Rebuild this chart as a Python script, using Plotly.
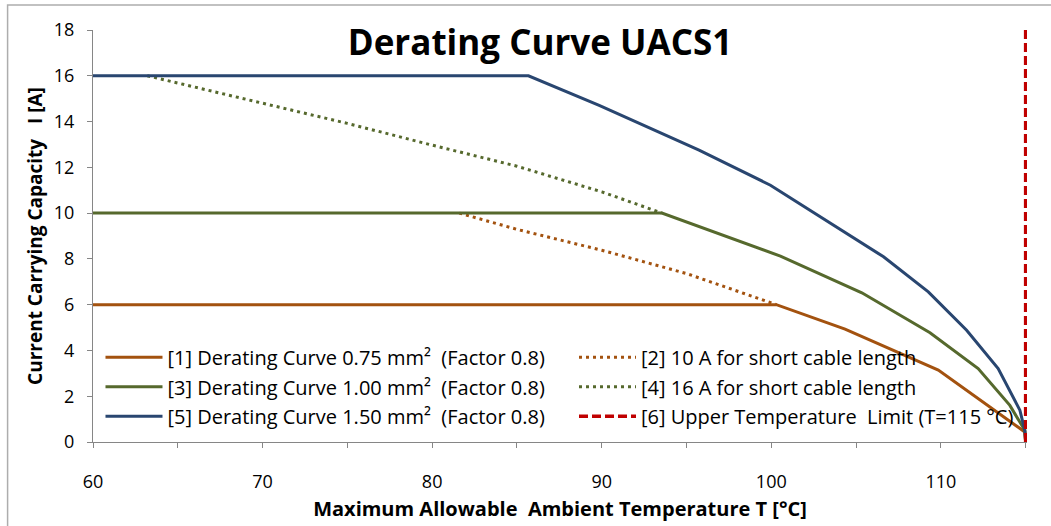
import plotly.graph_objects as go

# ---- data ----
t1 = [60, 100.3, 104.35, 109.85, 114.95, 115]
i1 = [6, 6, 4.93, 3.14, 0.44, 0]

t2 = [81.6, 85, 90, 95, 100.3]
i2 = [10, 9.29, 8.38, 7.36, 6]

t3 = [60, 93.55, 100.54, 105.34, 109.36, 112.2, 114.07, 114.95, 115]
i3 = [10, 10, 8.12, 6.52, 4.77, 3.21, 1.6, 0.51, 0]

t4 = [63.2, 70, 75, 80, 85, 90, 93.55]
i4 = [16, 14.82, 13.92, 12.97, 12.05, 10.93, 10]

t5 = [60, 85.68, 89.85, 95.74, 99.95, 106.62, 109.26, 111.52, 113.38, 114.66, 114.95, 115]
i5 = [16, 16, 14.71, 12.75, 11.22, 8.09, 6.56, 4.88, 3.21, 1.39, 0.51, 0]

t6 = [115, 115]
i6 = [0, 18]

names = [
    "[1] Derating Curve 0.75 mm²  (Factor 0.8)",
    "[2] 10 A for short cable length",
    "[3] Derating Curve 1.00 mm²  (Factor 0.8)",
    "[4] 16 A for short cable length",
    "[5] Derating Curve 1.50 mm²  (Factor 0.8)",
    "[6] Upper Temperature  Limit (T=115 °C)",
]

x_ticks = [60, 70, 80, 90, 100, 110]
y_ticks = [0, 2, 4, 6, 8, 10, 12, 14, 16, 18]

ORANGE = "#A3520F"
GREEN = "#56692D"
BLUE = "#294670"
RED = "#C00000"
FONT = "Open Sans"

fig = go.Figure()
series = [
    (t1, i1, names[0], ORANGE, "solid", 3, "legend"),
    (t2, i2, names[1], ORANGE, "3px,4px", 3, "legend2"),
    (t3, i3, names[2], GREEN, "solid", 3, "legend"),
    (t4, i4, names[3], GREEN, "3px,4px", 3, "legend2"),
    (t5, i5, names[4], BLUE, "solid", 3, "legend"),
    (t6, i6, names[5], RED, "9px,4px", 3.5, "legend2"),
]
for k, (x, y, nm, col, dash, w, lg) in enumerate(series):
    fig.add_trace(go.Scatter(
        x=x, y=y, name=nm, mode="lines",
        line=dict(color=col, width=w, dash=dash),
        legend=lg, legendgroup=f"g{k}",
        cliponaxis=False,
    ))

W, H = 1051, 526
L, R, T, B = 92.5, 1027.5, 30, 441.7
leg_common = dict(xanchor="left", yanchor="middle", bgcolor="rgba(0,0,0,0)",
                  font=dict(family=FONT, size=20, color="#000000"),
                  itemwidth=57, tracegroupgap=0.5, traceorder="grouped")
fig.update_layout(
    width=W, height=H,
    margin=dict(l=L, r=W - R, t=T, b=H - B, pad=0),
    paper_bgcolor="white", plot_bgcolor="white",
    font=dict(family=FONT, size=18, color="#000000"),
    title=dict(text="Derating Curve UACS1", x=540 / W, xref="container",
               y=1 - 43 / H, yref="container", xanchor="center", yanchor="middle",
               font=dict(family=FONT, size=35, color="#000000", weight="bold")),
    legend=dict(x=(100 - L) / (R - L), y=(B - 386.5) / (B - T), **leg_common),
    legend2=dict(x=(574 - L) / (R - L), y=(B - 386.5) / (B - T), **leg_common),
    showlegend=True,
)
fig.update_xaxes(
    range=[60, 115.08], tickvals=x_ticks, ticks="outside", ticklen=5, tickwidth=1.25,
    tickcolor="#868686", showline=True, linecolor="#868686", linewidth=1.25,
    showgrid=False, zeroline=False, automargin=False, ticklabelstandoff=18,
    minor=dict(dtick=5, ticks="outside", ticklen=5, tickcolor="#868686", tickwidth=1.25, showgrid=False),
    title=dict(text="<b>Maximum Allowable  Ambient Temperature T [°C]</b>", standoff=10,
               font=dict(family=FONT, size=20)),
)
fig.update_yaxes(
    range=[0, 18], tickvals=y_ticks, ticks="outside", ticklen=5, tickwidth=1.25,
    tickcolor="#868686", showline=True, linecolor="#868686", linewidth=1.25,
    showgrid=False, zeroline=False, automargin=False, ticklabelstandoff=9,
    title=dict(text="<b>Current Carrying Capacity   I [A]</b>", standoff=6,
               font=dict(family=FONT, size=19)),
)
# chart-area border
fig.add_shape(type="rect", xref="paper", yref="paper",
              x0=(7 - L) / (R - L), x1=(1060 - L) / (R - L),
              y0=(B - 540) / (B - T), y1=(B - 5) / (B - T),
              line=dict(color="#ADADAD", width=1.5), layer="below")

fig.write_html("out.html", config={"displayModeBar": False},
               post_script="document.body.style.margin='0';")
